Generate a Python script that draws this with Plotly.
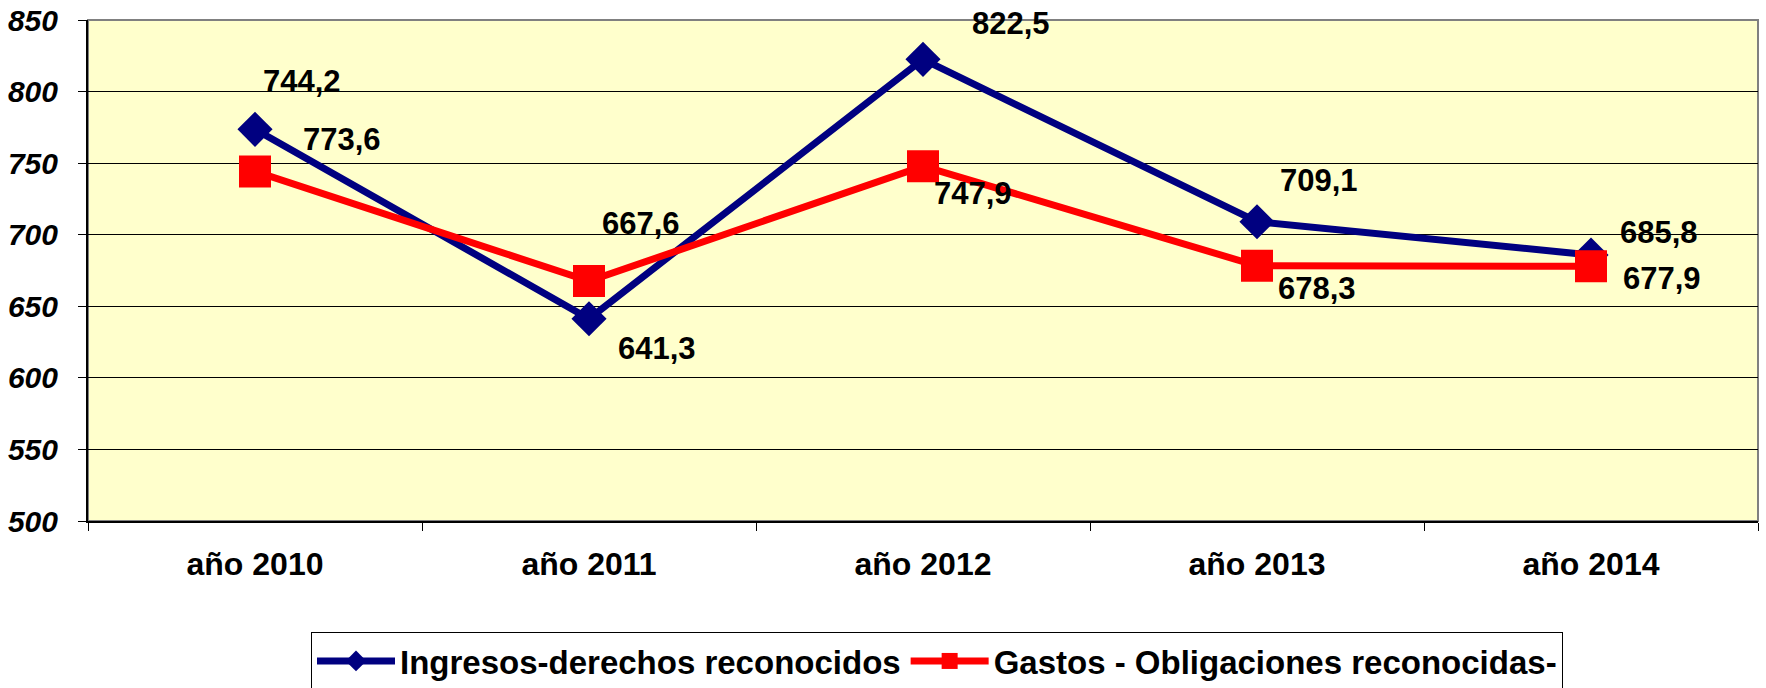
import plotly.graph_objects as go

categories = ["año 2010", "año 2011", "año 2012", "año 2013", "año 2014"]
ingresos = [773.6, 641.3, 822.5, 709.1, 685.8]
gastos = [744.2, 667.6, 747.9, 678.3, 677.9]
y_ticks = [500, 550, 600, 650, 700, 750, 800, 850]

name_ing = "Ingresos-derechos reconocidos"
name_gas = "Gastos - Obligaciones reconocidas-"

# label offsets in px (xshift, yshift) -- placement only
ing_off = [(87, -10), (68, -30), (88, 36), (62, 41), (68, 23)]
gas_off = [(47, 90), (52, 58), (50, -27), (60, -23), (71, -12)]

FONT = "Arial, 'Liberation Sans', sans-serif"

W, H = 1766, 688

fig = go.Figure()
fig.add_trace(go.Scatter(
    x=categories, y=ingresos, name=name_ing, mode="lines+markers",
    line=dict(color="#000080", width=7),
    marker=dict(symbol="diamond", size=27, color="#000080"),
))
fig.add_trace(go.Scatter(
    x=categories, y=gastos, name=name_gas, mode="lines+markers",
    line=dict(color="#FF0000", width=7),
    marker=dict(symbol="square", size=32, color="#FF0000"),
))

def fmt(v):
    return f"{v:.1f}".replace(".", ",")

for series, offs in ((ingresos, ing_off), (gastos, gas_off)):
    for c, v, (dx, dy) in zip(categories, series, offs):
        fig.add_annotation(x=c, y=v, text=fmt(v), showarrow=False,
                           xshift=dx, yshift=dy,
                           font=dict(family=FONT, size=31, color="black", weight="bold"))

fig.add_shape(type="rect", xref="paper", yref="paper", x0=0, y0=0, x1=1, y1=1,
              line=dict(color="#808080", width=2), layer="below")

fig.update_layout(
    width=W, height=H,
    margin=dict(l=88, r=8, t=20, b=167, autoexpand=False),
    paper_bgcolor="white",
    plot_bgcolor="#FFFFCC",
    showlegend=True,
    legend=dict(
        orientation="h", xref="container", yref="container",
        x=311 / W, xanchor="left", y=(H - 632) / H, yanchor="top",
        bgcolor="white", bordercolor="black", borderwidth=1,
        font=dict(family=FONT, size=33, color="black", weight="bold"),
        itemwidth=78, tracegroupgap=0,
    ),
    xaxis=dict(
        type="category", range=[-0.5, 4.5], automargin=False,
        showline=True, linecolor="black", linewidth=2,
        ticks="outside", tickson="boundaries", ticklen=8, tickcolor="black",
        showgrid=False,
        tickfont=dict(family=FONT, size=32, color="black", weight="bold"),
        ticklabelstandoff=14,
    ),
    yaxis=dict(
        range=[500, 850], tickvals=y_ticks, automargin=False,
        ticklabeloverflow="allow",
        showline=True, linecolor="black", linewidth=2,
        ticks="outside", ticklen=8, tickcolor="black",
        showgrid=True, gridcolor="black", gridwidth=1,
        zeroline=False,
        tickfont=dict(family=FONT, size=30, color="black", weight="bold", style="italic"),
        ticklabelstandoff=14,
    ),
)

fig.write_html("out.html", config={"displayModeBar": False},
               post_script="document.body.style.margin='0';")
